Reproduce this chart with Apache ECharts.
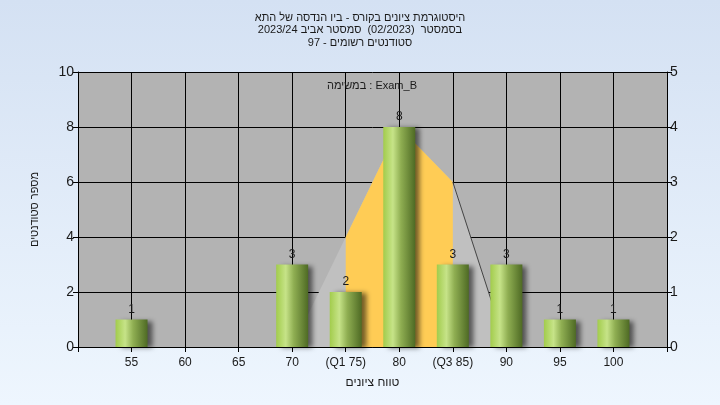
<!DOCTYPE html>
<html><head><meta charset="utf-8">
<script src="https://cdn.jsdelivr.net/npm/echarts@6/dist/echarts.min.js"></script>
<style>html,body{margin:0;padding:0;}#c{width:720px;height:405px;background:linear-gradient(#d4e1f3,#eef6fe);}</style>
</head><body><div id="c"></div>
<script>
const titleLines = ['היסטוגרמת ציונים בקורס - ביו הנדסה של התא', 'בסמסטר  (02/2023)  סמסטר אביב 2023/24', 'סטודנטים רשומים - 97'];
const subtitle = 'במשימה : Exam_B';
const categories = ['', '55', '60', '65', '70', '(Q1 75)', '80', '(Q3 85)', '90', '95', '100', ''];
const counts = [null, 1, 0, 0, 3, 2, 8, 3, 3, 1, 1, null];
const grayArea = [null, null, null, null, 0, 2, 4, 3, 0, null, null, null];
const iqrArea = [null, null, null, null, null, 2, 4, 3, null, null, null, null];
const tailLine = [null, null, null, null, null, null, null, 3, 0, null, null, null];
const yLeftName = 'מספר סטודנטים';
const xName = 'טווח ציונים';

const chart = echarts.init(document.getElementById('c'), null, {renderer: 'canvas'});
const txt = '#1a1a1a';
const font = 'Liberation Sans';
chart.setOption({
  backgroundColor: 'transparent',
  animation: false,
  textStyle: {fontFamily: font},
  title: titleLines.map((t, i) => ({
    text: t, left: 360, textAlign: 'center', top: 12 + i * 12.5, padding: 0,
    textStyle: {fontSize: 11, fontWeight: 'normal', color: txt, fontFamily: font}
  })).concat([
    {text: subtitle, left: 372, top: 80, textAlign: 'center', padding: 0,
     textStyle: {fontSize: 11, fontWeight: 'normal', color: txt, fontFamily: font}}
  ]),
  grid: {left: 78, right: 53, top: 72, bottom: 58, show: true, backgroundColor: '#b3b3b3', borderWidth: 0},
  xAxis: {
    type: 'category', data: categories, boundaryGap: false,
    name: xName, nameLocation: 'middle', nameGap: 30, nameTextStyle: {color: txt, fontSize: 12},
    axisLine: {lineStyle: {color: '#000'}},
    axisTick: {show: true, length: 5, lineStyle: {color: '#000'}},
    axisLabel: {color: txt, fontSize: 12, margin: 10, interval: 0},
    splitLine: {show: true, lineStyle: {color: '#000', width: 1}}
  },
  yAxis: [
    {type: 'value', min: 0, max: 10, interval: 2,
     name: yLeftName, nameLocation: 'middle', nameGap: 38, nameTextStyle: {color: txt, fontSize: 11},
     axisLine: {show: true, lineStyle: {color: '#000'}},
     axisTick: {show: true, length: 5, lineStyle: {color: '#000'}},
     axisLabel: {color: txt, fontSize: 14, margin: 4},
     splitLine: {show: true, lineStyle: {color: '#000', width: 1}}},
    {type: 'value', min: 0, max: 5, interval: 1, position: 'right',
     axisLine: {show: true, lineStyle: {color: '#000'}},
     axisTick: {show: true, length: 5, lineStyle: {color: '#000'}},
     axisLabel: {color: txt, fontSize: 14, margin: 3},
     splitLine: {show: false}}
  ],
  series: [
    {type: 'line', yAxisIndex: 1, data: grayArea, symbol: 'none', connectNulls: false,
     lineStyle: {width: 0}, areaStyle: {color: '#c0c0c0', opacity: 1}, z: 1},
    {type: 'line', yAxisIndex: 1, data: iqrArea, symbol: 'none',
     lineStyle: {width: 0}, areaStyle: {color: '#ffcc55', opacity: 1}, z: 2},
    {type: 'line', yAxisIndex: 1, data: tailLine, symbol: 'none',
     lineStyle: {width: 1, color: '#444'}, z: 3},
    {type: 'bar', yAxisIndex: 0, data: counts, barWidth: 32, z: 4,
     itemStyle: {
       color: new echarts.graphic.LinearGradient(0, 0, 1, 0, [
         {offset: 0, color: '#a2cc4c'}, {offset: 0.3, color: '#c6e388'},
         {offset: 0.55, color: '#8fae52'}, {offset: 1, color: '#4e6a24'}]),
       shadowColor: 'rgba(0,0,0,0.55)', shadowBlur: 5, shadowOffsetX: 5, shadowOffsetY: 1
     },
     label: {show: true, position: 'top', distance: 4, color: txt, fontSize: 12,
       formatter: p => (p.value ? String(p.value) : '')}}
  ]
});
</script></body></html>
